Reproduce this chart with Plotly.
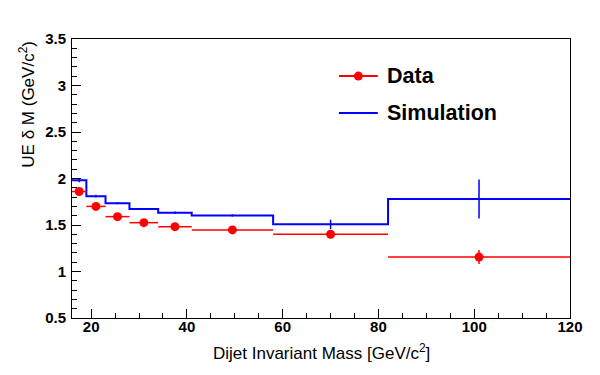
import plotly.graph_objects as go

# bin edges [GeV/c^2]
edges = [16, 19, 23, 28, 34, 41, 58, 82, 120]
sim_vals = [1.98, 1.81, 1.735, 1.672, 1.632, 1.603, 1.507, 1.78]
sim_errs = [0.02, 0.015, 0.012, 0.012, 0.012, 0.012, 0.05, 0.21]
data_vals = [1.86, 1.70, 1.59, 1.525, 1.482, 1.447, 1.40, 1.155]
data_errs = [0.02, 0.02, 0.02, 0.02, 0.02, 0.02, 0.025, 0.075]
legend_names = ["Data", "Simulation"]

centers = [(a + b) / 2 for a, b in zip(edges[:-1], edges[1:])]
halfw = [(b - a) / 2 for a, b in zip(edges[:-1], edges[1:])]

BLUE = "#0000ff"
RED = "#ff0000"
FONT = "Liberation Sans"

fig = go.Figure()

# Simulation histogram step line
fig.add_trace(go.Scatter(
    x=edges, y=sim_vals + [sim_vals[-1]], mode="lines", line_shape="hv",
    line=dict(color=BLUE, width=2), showlegend=False, hoverinfo="skip"))
# Simulation error bars
fig.add_trace(go.Scatter(
    x=centers, y=sim_vals, mode="markers", marker=dict(size=1, color=BLUE, opacity=0),
    error_y=dict(type="data", array=sim_errs, color=BLUE, thickness=1.5, width=0),
    showlegend=False))
# Data
fig.add_trace(go.Scatter(
    x=centers, y=data_vals, mode="markers", marker=dict(size=9, color=RED),
    error_x=dict(type="data", array=halfw, color=RED, thickness=1.5, width=0),
    error_y=dict(type="data", array=data_errs, color=RED, thickness=1.5, width=0),
    showlegend=False))

axis_common = dict(showline=True, linecolor="black", linewidth=1, mirror=True,
                   ticks="inside", ticklen=9, tickcolor="black", showgrid=False,
                   zeroline=False,
                   tickfont=dict(family=FONT, size=15, color="black", weight="bold"))

fig.update_xaxes(range=[16, 120], tick0=0, dtick=20, ticklabelstandoff=-5,
                 minor=dict(ticks="inside", ticklen=5, dtick=5, tick0=0, tickcolor="black"),
                 **axis_common)
fig.update_yaxes(range=[0.5, 3.5], tick0=0.5, dtick=0.5, ticklabelstandoff=2,
                 minor=dict(ticks="inside", ticklen=5, dtick=0.1, tick0=0.5, tickcolor="black"),
                 **axis_common)

fig.add_annotation(text="Dijet Invariant Mass [GeV/c<sup>2</sup>]", xref="paper", yref="paper",
                   x=0.5, y=-0.122, xanchor="center", yanchor="middle", showarrow=False,
                   font=dict(family=FONT, size=17, color="black"))
fig.add_annotation(text="UE δ M (GeV/c<sup>2</sup>)", xref="paper", yref="paper",
                   x=-0.092, y=1.0, xanchor="center", yanchor="top", textangle=-90,
                   showarrow=False, font=dict(family=FONT, size=17, color="black"))

# manual legend (ROOT TLegend style)
leg_y = [0.867, 0.735]
leg_col = [RED, BLUE]
for name, yy, col in zip(legend_names, leg_y, leg_col):
    fig.add_shape(type="line", xref="paper", yref="paper", x0=0.536, x1=0.614, y0=yy, y1=yy,
                  line=dict(color=col, width=2))
    fig.add_annotation(text=name, xref="paper", yref="paper", x=0.628, y=yy,
                       xanchor="left", yanchor="middle", showarrow=False,
                       font=dict(family=FONT, size=21.5, color="black", weight="bold"))
fig.add_shape(type="circle", xref="paper", yref="paper",
              x0=0.575 - 0.009, x1=0.575 + 0.009, y0=leg_y[0] - 0.0161, y1=leg_y[0] + 0.0161,
              fillcolor=RED, line=dict(color=RED, width=0))

fig.update_layout(
    width=600, height=375,
    margin=dict(l=64, r=38, t=31, b=65),
    plot_bgcolor="white", paper_bgcolor="white",
    showlegend=False,
)

fig.write_html("out.html")
